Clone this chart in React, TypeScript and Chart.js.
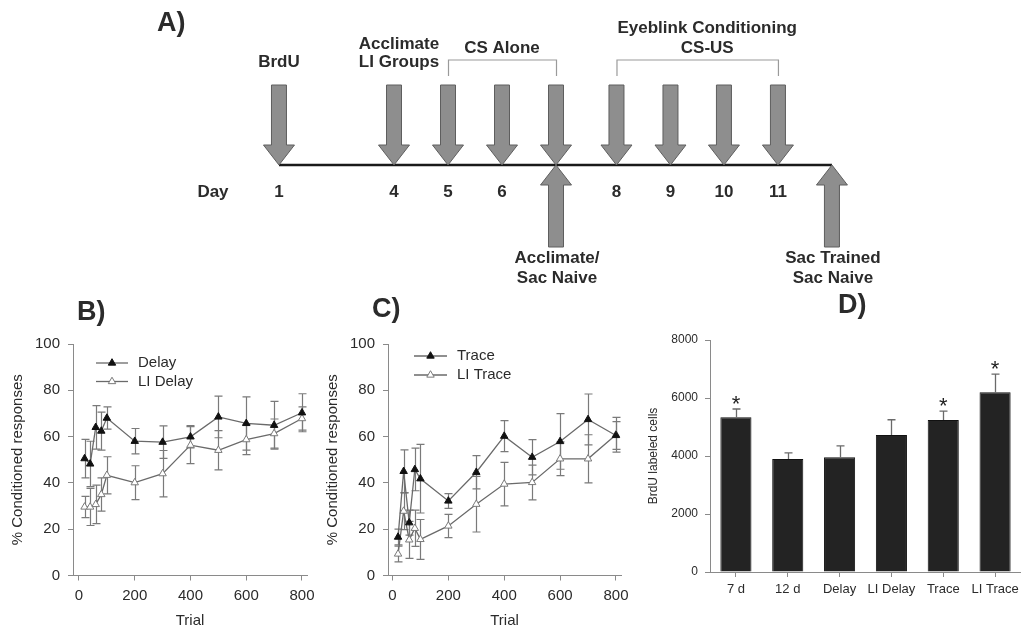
import React, { useEffect, useRef } from 'react';
import { Chart, registerables } from 'chart.js';

Chart.register(...registerables);

const FONT = '"Liberation Sans", Arial, Helvetica, sans-serif';
const TEXT = '#2b2b2b';
const AXIS = '#8a8a8a';
const SERIES_LINE = '#6a6a6a';
const ERR = '#7a7a7a';

// ---------- Panel A: experimental timeline ----------
const timelineDays = ['1', '4', '5', '6', '7', '8', '9', '10', '11', '12'];
const timelinePos = [1.87, 4, 5, 6, 7, 8.12, 9.12, 10.11, 11.11, 12.11];
const downArrowDays = ['1', '4', '5', '6', '7', '8', '9', '10', '11'];
const upArrowDays = ['7', '12'];
const numberedDays = ['1', '4', '5', '6', '8', '9', '10', '11'];
const aboveLabels: [string, string[]][] = [
  ['1', ['BrdU']],
  ['4', ['Acclimate', 'LI Groups']],
];
const belowLabels: [string, string[]][] = [
  ['7', ['Acclimate/', 'Sac Naive']],
  ['12', ['Sac Trained', 'Sac Naive']],
];
const phaseBrackets = [
  { from: '5', to: '7', text: ['CS Alone'] },
  { from: '8', to: '11', text: ['Eyeblink Conditioning', 'CS-US'] },
];

// ---------- Panels B & C: % conditioned responses ----------
const trials = [20, 40, 60, 80, 100, 200, 300, 400, 500, 600, 700, 800];
const trialTicks = [0, 200, 400, 600, 800];
const pctTicks = [0, 20, 40, 60, 80, 100];

const delayMean = [50.5, 48.2, 64.0, 62.4, 68.0, 58.0, 57.6, 59.9, 68.5, 65.7, 64.9, 70.3];
const delayErr = [8.3, 9.8, 9.4, 8.2, 4.8, 5.5, 7.0, 4.8, 9.0, 11.5, 10.3, 8.2];
const liDelayMean = [29.6, 29.6, 30.7, 35.0, 43.3, 40.1, 44.0, 56.3, 54.1, 58.7, 61.3, 67.8];
const liDelayErr = [4.6, 8.0, 8.3, 7.2, 8.0, 7.3, 10.0, 8.0, 8.5, 6.5, 6.3, 5.0];

const traceMean = [16.6, 45.0, 22.8, 45.8, 41.8, 32.2, 44.6, 60.2, 51.1, 57.9, 67.4, 60.5];
const traceErr = [3.4, 9.3, 5.4, 9.2, 14.8, 3.2, 7.2, 6.7, 7.6, 12.0, 11.0, 6.0];
const liTraceMean = [9.3, 27.8, 15.4, 20.4, 15.6, 21.4, 30.8, 39.5, 40.2, 50.4, 50.4, 60.8];
const liTraceErr = [3.4, 8.0, 8.0, 7.8, 8.6, 5.0, 12.0, 9.4, 7.5, 7.3, 10.4, 7.5];

// ---------- Panel D: BrdU labeled cells ----------
const groups = ['7 d', '12 d', 'Delay', 'LI Delay', 'Trace', 'LI Trace'];
const brduMean = [5340, 3900, 3960, 4720, 5240, 6200];
const brduErr = [280, 210, 390, 530, 310, 620];
const significant = [true, false, false, false, true, true];
const cellTicks = [0, 2000, 4000, 6000, 8000];

// ---------- plugins ----------
function drawArrow(ctx: CanvasRenderingContext2D, x: number, y0: number, dir: number) {
  // dir = -1: body above, pointing down to the line; dir = 1: body below, pointing up
  const shaft = 7.5, head = 15.5, headLen = 20, len = dir < 0 ? 80 : 82;
  ctx.beginPath();
  ctx.moveTo(x - shaft, y0 + dir * len);
  ctx.lineTo(x + shaft, y0 + dir * len);
  ctx.lineTo(x + shaft, y0 + dir * headLen);
  ctx.lineTo(x + head, y0 + dir * headLen);
  ctx.lineTo(x, y0);
  ctx.lineTo(x - head, y0 + dir * headLen);
  ctx.lineTo(x - shaft, y0 + dir * headLen);
  ctx.closePath();
  ctx.fillStyle = '#8e8e8e';
  ctx.fill();
  ctx.lineWidth = 1;
  ctx.strokeStyle = '#5e5e5e';
  ctx.stroke();
}

const timelinePlugin = {
  id: 'timeline',
  afterDatasetsDraw(chart: any, _a: any, o: any) {
    const { ctx } = chart;
    const xs = chart.scales.x;
    const ys = chart.scales.y;
    const y0 = ys.getPixelForValue(0);
    const px = (d: string) => xs.getPixelForValue(timelinePos[timelineDays.indexOf(d)]);
    ctx.save();
    downArrowDays.forEach((d) => drawArrow(ctx, px(d), y0, -1));
    upArrowDays.forEach((d) => drawArrow(ctx, px(d), y0, 1));

    ctx.fillStyle = TEXT;
    ctx.font = `bold 17px ${FONT}`;
    ctx.textAlign = 'center';
    ctx.textBaseline = 'middle';
    numberedDays.forEach((d) => ctx.fillText(d, px(d), y0 + 27));
    ctx.fillText('Day', px(timelineDays[0]) - 66, y0 + 27);

    aboveLabels.forEach(([d, lines]) => {
      lines.forEach((t, i) => {
        ctx.fillText(t, px(d) + (lines.length > 1 ? 5 : 0), y0 - 103 - (lines.length - 1 - i) * 18);
      });
    });
    belowLabels.forEach(([d, lines]) => {
      lines.forEach((t, i) => ctx.fillText(t, px(d) + 1, y0 + 93 + i * 20));
    });
    phaseBrackets.forEach((b, k) => {
      const x1 = px(b.from), x2 = px(b.to);
      ctx.strokeStyle = '#9a9a9a';
      ctx.lineWidth = 1.2;
      ctx.beginPath();
      ctx.moveTo(x1 + 0.5, y0 - 89);
      ctx.lineTo(x1 + 0.5, y0 - 105);
      ctx.lineTo(x2 + 0.5, y0 - 105);
      ctx.lineTo(x2 + 0.5, y0 - 89);
      ctx.stroke();
      const shift = o.bracketShift[k];
      b.text.forEach((t, i) => {
        ctx.fillText(t, (x1 + x2) / 2 + shift, y0 - 117 - (b.text.length - 1 - i) * 20);
      });
    });
    ctx.font = `bold 27px ${FONT}`;
    ctx.textAlign = 'left';
    ctx.fillText(o.panel, o.panelX, o.panelY);
    ctx.restore();
  },
};

function drawErrorBars(chart: any, o: any) {
  const { ctx } = chart;
  const ys = chart.scales.y;
  ctx.save();
  ctx.strokeStyle = o.color;
  ctx.lineWidth = o.width;
  chart.data.datasets.forEach((ds: any, i: number) => {
    const errs = ds.errors;
    if (!errs) return;
    const meta = chart.getDatasetMeta(i);
    meta.data.forEach((el: any, j: number) => {
      const v = ds.data[j];
      const val = typeof v === 'number' ? v : v.y;
      const top = ys.getPixelForValue(val + errs[j]);
      const bot = o.upOnly ? ys.getPixelForValue(val) : ys.getPixelForValue(val - errs[j]);
      const x = Math.round(el.x) + 0.5;
      ctx.beginPath();
      ctx.moveTo(x, top);
      ctx.lineTo(x, bot);
      ctx.moveTo(x - o.cap, top);
      ctx.lineTo(x + o.cap, top);
      if (!o.upOnly) {
        ctx.moveTo(x - o.cap, bot);
        ctx.lineTo(x + o.cap, bot);
      }
      ctx.stroke();
    });
  });
  ctx.restore();
}

const errorBarPlugin = {
  id: 'errorBars',
  beforeDatasetsDraw(chart: any, _a: any, o: any) {
    if (!o.front) drawErrorBars(chart, o);
  },
  afterDatasetsDraw(chart: any, _a: any, o: any) {
    if (o.front) drawErrorBars(chart, o);
  },
};

function drawTriangle(ctx: CanvasRenderingContext2D, x: number, y: number, r: number) {
  let rad = 0;
  ctx.beginPath();
  ctx.moveTo(x + Math.sin(rad) * r, y - Math.cos(rad) * r);
  rad += (2 * Math.PI) / 3;
  ctx.lineTo(x + Math.sin(rad) * r, y - Math.cos(rad) * r);
  rad += (2 * Math.PI) / 3;
  ctx.lineTo(x + Math.sin(rad) * r, y - Math.cos(rad) * r);
  ctx.closePath();
}

const inlineLegendPlugin = {
  id: 'inlineLegend',
  afterDraw(chart: any, _a: any, o: any) {
    const { ctx, chartArea } = chart;
    ctx.save();
    chart.data.datasets.forEach((ds: any, i: number) => {
      const y = chartArea.top + o.y0 + i * o.dy;
      const x1 = chartArea.left + o.x0;
      const x2 = chartArea.left + o.x1;
      ctx.strokeStyle = ds.borderColor;
      ctx.lineWidth = ds.borderWidth;
      ctx.beginPath();
      ctx.moveTo(x1, y);
      ctx.lineTo(x2, y);
      ctx.stroke();
      drawTriangle(ctx, (x1 + x2) / 2, y, ds.pointRadius);
      ctx.fillStyle = ds.pointBackgroundColor;
      ctx.fill();
      ctx.strokeStyle = ds.pointBorderColor;
      ctx.lineWidth = ds.pointBorderWidth;
      ctx.stroke();
      ctx.fillStyle = TEXT;
      ctx.font = `15px ${FONT}`;
      ctx.textAlign = 'left';
      ctx.textBaseline = 'middle';
      ctx.fillText(ds.label, chartArea.left + o.tx, y);
    });
    ctx.restore();
  },
};

const panelLabelPlugin = {
  id: 'panelLabel',
  afterDraw(chart: any, _a: any, o: any) {
    const { ctx, chartArea } = chart;
    ctx.save();
    ctx.fillStyle = TEXT;
    ctx.font = `bold 27px ${FONT}`;
    ctx.textAlign = 'left';
    ctx.textBaseline = 'middle';
    ctx.fillText(o.text, chartArea.left + o.dx, chartArea.top + o.dy);
    ctx.restore();
  },
};

const starPlugin = {
  id: 'sigStars',
  afterDatasetsDraw(chart: any, _a: any, o: any) {
    const { ctx } = chart;
    const ys = chart.scales.y;
    const ds = chart.data.datasets[0];
    const meta = chart.getDatasetMeta(0);
    ctx.save();
    ctx.fillStyle = '#1e1e1e';
    ctx.font = `22px ${FONT}`;
    ctx.textAlign = 'center';
    ctx.textBaseline = 'alphabetic';
    meta.data.forEach((el: any, i: number) => {
      if (!significant[i]) return;
      const top = ys.getPixelForValue(ds.data[i] + ds.errors[i]);
      ctx.fillText('*', el.x, top + o.offset);
    });
    ctx.restore();
  },
};

// ---------- configs ----------
const CANVAS_H = 343;

function tickSet(values: number[]) {
  return (s: any) => {
    s.ticks = values.map((v) => ({ value: v }));
  };
}

const plainNumber = (v: any) => String(v);

function linePanel(
  labels: string[],
  means: number[][],
  errs: number[][],
  xMin: number,
  rightPad: number,
  legend: any,
  panel: any
) {
  const styles = [
    { pointBackgroundColor: '#111111', pointBorderColor: '#111111' },
    { pointBackgroundColor: '#ffffff', pointBorderColor: '#7a7a7a' },
  ];
  return {
    type: 'line',
    data: {
      datasets: labels.map((label, k) => ({
        label,
        data: trials.map((t, i) => ({ x: t, y: means[k][i] })),
        errors: errs[k],
        borderColor: SERIES_LINE,
        borderWidth: 1.3,
        pointStyle: 'triangle',
        pointRadius: 4.3,
        pointBorderWidth: 1,
        fill: false,
        tension: 0,
        ...styles[k],
      })),
    },
    options: {
      responsive: false,
      animation: false,
      events: [],
      layout: { padding: { left: 0, top: 54, right: rightPad, bottom: 0 } },
      plugins: {
        legend: { display: false },
        tooltip: { enabled: false },
        errorBars: { color: ERR, width: 1.2, cap: 4, upOnly: false, front: false },
        inlineLegend: legend,
        panelLabel: panel,
      },
      scales: {
        x: {
          type: 'linear',
          min: xMin,
          max: 818,
          afterBuildTicks: tickSet(trialTicks),
          afterFit: (s: any) => {
            s.height = CANVAS_H - 285.5;
            s.paddingLeft = 0;
            s.paddingRight = 0;
          },
          grid: { display: true, drawOnChartArea: false, drawTicks: true, tickLength: 5, color: AXIS },
          border: { display: true, color: AXIS, width: 1 },
          ticks: { color: TEXT, font: { family: FONT, size: 15 }, padding: 6.5, maxRotation: 0, callback: plainNumber },
          title: { display: true, text: 'Trial', color: TEXT, font: { family: FONT, size: 15 }, padding: { top: 0, bottom: 3 } },
        },
        y: {
          min: 0,
          max: 100,
          afterBuildTicks: tickSet(pctTicks),
          afterFit: (s: any) => {
            s.width = 73;
            s.paddingTop = 0;
            s.paddingBottom = 0;
          },
          grid: { display: true, drawOnChartArea: false, drawTicks: true, tickLength: 5, color: AXIS },
          border: { display: true, color: AXIS, width: 1 },
          ticks: { color: TEXT, font: { family: FONT, size: 15 }, padding: 8, callback: plainNumber },
          title: { display: true, text: '% Conditioned responses', color: TEXT, font: { family: FONT, size: 15 }, padding: { top: 9, bottom: 0 } },
        },
      },
    },
    plugins: [errorBarPlugin, inlineLegendPlugin, panelLabelPlugin],
  };
}

function makeTimeline() {
  return {
    type: 'scatter',
    data: {
      datasets: [
        {
          data: [
            { x: timelinePos[0], y: 0 },
            { x: timelinePos[timelinePos.length - 1], y: 0 },
          ],
          showLine: true,
          borderColor: '#1a1a1a',
          borderWidth: 2.6,
          pointRadius: 0,
        },
      ],
    },
    options: {
      responsive: false,
      animation: false,
      events: [],
      layout: { padding: 0 },
      plugins: {
        legend: { display: false },
        tooltip: { enabled: false },
        timeline: { bracketShift: [0, 10], panel: 'A)', panelX: 157, panelY: 24 },
      },
      scales: {
        x: { type: 'linear', display: false, min: -178 / 54, max: (1021 - 178) / 54 },
        y: { type: 'linear', display: false, min: -125, max: 165 },
      },
    },
    plugins: [timelinePlugin],
  };
}

function makeB() {
  return linePanel(
    ['Delay', 'LI Delay'],
    [delayMean, liDelayMean],
    [delayErr, liDelayErr],
    -21.5,
    315 - 307,
    { x0: 23, x1: 55, tx: 65, y0: 19, dy: 18.5 },
    { text: 'B)', dx: 4, dy: -31 }
  );
}

function makeC() {
  return linePanel(
    ['Trace', 'LI Trace'],
    [traceMean, liTraceMean],
    [traceErr, liTraceErr],
    -16,
    365 - 306,
    { x0: 26, x1: 59, tx: 69, y0: 12, dy: 19 },
    { text: 'C)', dx: -16, dy: -34 }
  );
}

function makeD() {
  return {
    type: 'bar',
    data: {
      labels: groups,
      datasets: [
        {
          data: brduMean,
          errors: brduErr,
          backgroundColor: '#232323',
          borderColor: '#111111',
          borderWidth: 1,
          barPercentage: 0.6,
          categoryPercentage: 1.0,
        },
      ],
    },
    options: {
      responsive: false,
      animation: false,
      events: [],
      layout: { padding: { left: 0, top: 50, right: 0, bottom: 0 } },
      plugins: {
        legend: { display: false },
        tooltip: { enabled: false },
        errorBars: { color: '#6a6a6a', width: 1.3, cap: 4, upOnly: true, front: true },
        sigStars: { offset: 1.5 },
        panelLabel: { text: 'D)', dx: 128, dy: -34 },
      },
      scales: {
        x: {
          type: 'category',
          afterFit: (s: any) => {
            s.height = CANVAS_H - 282;
            s.paddingLeft = 0;
            s.paddingRight = 0;
          },
          grid: { display: true, drawOnChartArea: false, drawTicks: true, tickLength: 5, color: AXIS, offset: false },
          border: { display: true, color: AXIS, width: 1 },
          ticks: { color: TEXT, font: { family: FONT, size: 13 }, padding: 5, maxRotation: 0, autoSkip: false },
        },
        y: {
          min: 0,
          max: 8000,
          afterBuildTicks: tickSet(cellTicks),
          afterFit: (s: any) => {
            s.width = 70;
            s.paddingTop = 0;
            s.paddingBottom = 0;
          },
          grid: { display: true, drawOnChartArea: false, drawTicks: true, tickLength: 5, color: AXIS },
          border: { display: true, color: AXIS, width: 1 },
          ticks: { color: TEXT, font: { family: FONT, size: 12 }, padding: 7, callback: plainNumber },
          title: { display: true, text: 'BrdU labeled cells', color: TEXT, font: { family: FONT, size: 12 }, padding: { top: 6, bottom: 0 } },
        },
      },
    },
    plugins: [errorBarPlugin, starPlugin, panelLabelPlugin],
  };
}

function ChartCanvas({ make, left, top, width, height }: { make: () => any; left: number; top: number; width: number; height: number }) {
  const ref = useRef<HTMLCanvasElement>(null);
  useEffect(() => {
    const chart = new Chart(ref.current as HTMLCanvasElement, make());
    return () => chart.destroy();
  }, []);
  return (
    <canvas
      ref={ref}
      width={width}
      height={height}
      style={{ position: 'absolute', left, top, width, height, display: 'block' }}
    />
  );
}

export default function App() {
  return (
    <div style={{ position: 'absolute', left: 0, top: 0, width: 1021, height: 633, background: '#ffffff', overflow: 'hidden' }}>
      <ChartCanvas make={makeTimeline} left={0} top={0} width={1021} height={290} />
      <ChartCanvas make={makeB} left={0} top={290} width={315} height={CANVAS_H} />
      <ChartCanvas make={makeC} left={315} top={290} width={365} height={CANVAS_H} />
      <ChartCanvas make={makeD} left={640} top={290} width={381} height={CANVAS_H} />
    </div>
  );
}
